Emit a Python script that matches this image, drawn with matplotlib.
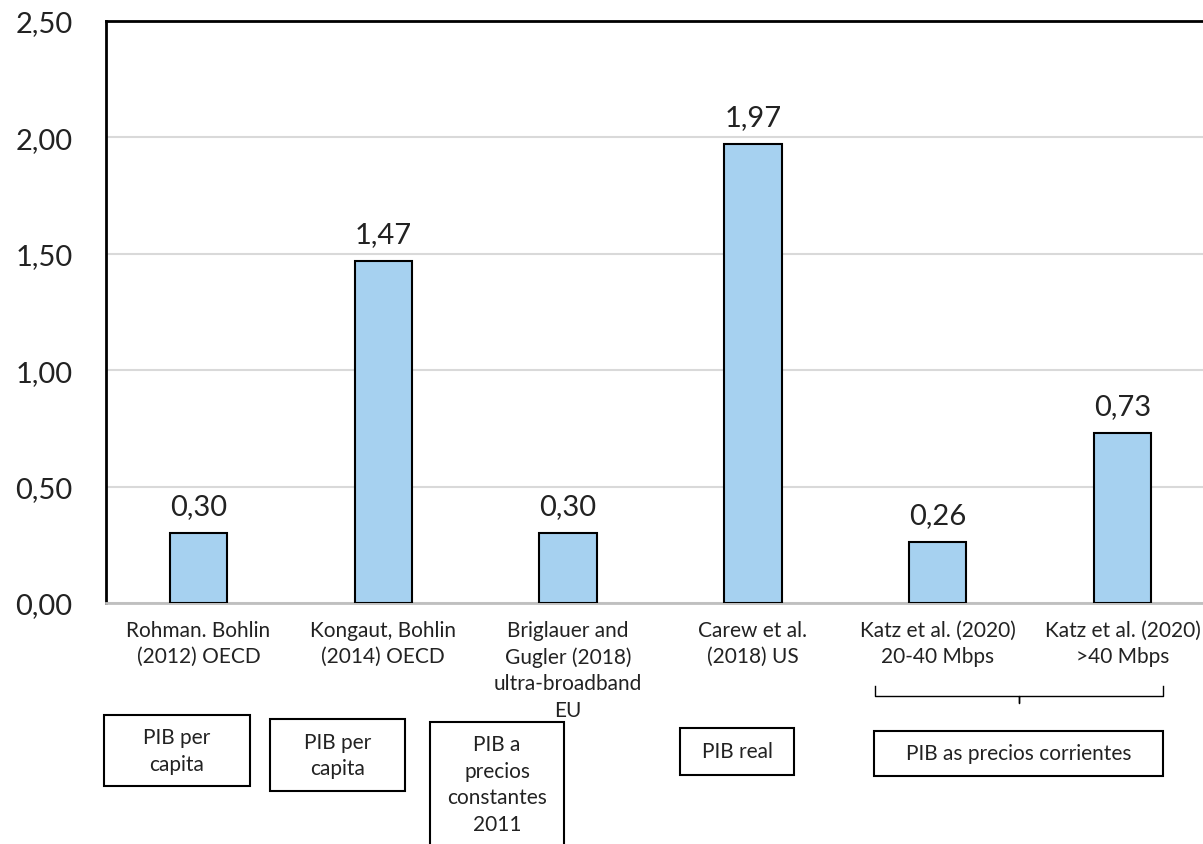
import matplotlib
matplotlib.use("Agg")
import matplotlib.pyplot as plt
from matplotlib.patches import Rectangle
from matplotlib.lines import Line2D

# datos
estudios = ["Rohman. Bohlin\n(2012) OECD",
            "Kongaut, Bohlin\n(2014) OECD",
            "Briglauer and\nGugler (2018)\nultra-broadband\nEU",
            "Carew et al.\n(2018) US",
            "Katz et al. (2020)\n20-40 Mbps",
            "Katz et al. (2020)\n>40 Mbps"]
valores = [0.30, 1.47, 0.30, 1.97, 0.26, 0.73]
y_ticks = [0.0, 0.5, 1.0, 1.5, 2.0, 2.5]
cajas = ["PIB per\ncapita", "PIB per\ncapita",
         "PIB a\nprecios\nconstantes\n2011", "PIB real",
         "PIB as precios corrientes"]

W, H = 1203, 845
plt.rcParams['font.family'] = ['Lato', 'DejaVu Sans']

fig = plt.figure(figsize=(W / 100, H / 100), dpi=100)
ax = fig.add_axes([106 / W, (H - 604) / H, 1 - 106 / W + 0.01, (604 - 22) / H])

x = range(len(valores))
ax.bar(x, valores, width=0.31, color='#A6D1F0', edgecolor='black', linewidth=1.5, zorder=3)
for i, v in enumerate(valores):
    ax.text(i, v + 0.06, f"{v:.2f}".replace('.', ','), ha='center', va='bottom',
            fontsize=21, color='#222222')

ax.set_xlim(-0.5, 5.5)
ax.set_ylim(0, 2.5)
ax.set_yticks(y_ticks)
ax.set_yticklabels([f"{t:.2f}".replace('.', ',') for t in y_ticks], fontsize=21, color='#222222')
ax.set_xticks(list(x))
ax.set_xticklabels(estudios, fontsize=15, color='#222222', linespacing=1.4, va='top')
ax.tick_params(axis='y', length=0, pad=24)
ax.tick_params(axis='x', length=0, pad=12)
ax.grid(axis='y', color='#d9d9d9', linewidth=1.5, zorder=0)
ax.set_axisbelow(True)
for s in ['left', 'top']:
    ax.spines[s].set_color('black')
    ax.spines[s].set_linewidth(2)
ax.spines['right'].set_visible(False)
ax.spines['bottom'].set_color('#bfbfbf')
ax.spines['bottom'].set_linewidth(2)


def px(x0, y0):
    return x0 / W, 1 - y0 / H


# cajas de texto bajo el eje (x0, y0, x1, y1 en píxeles)
pos_cajas = [(104, 716, 250, 787), (270, 720, 405, 792), (430, 723, 564, 860),
             (680, 729, 794, 776), (874, 732, 1163, 777)]
for texto, (x0, y0, x1, y1) in zip(cajas, pos_cajas):
    fx0, fy1 = px(x0, y1)
    fx1, fy0 = px(x1, y0)
    fig.add_artist(Rectangle((fx0, fy1), fx1 - fx0, fy0 - fy1, transform=fig.transFigure,
                             fill=False, edgecolor='black', linewidth=1.5))
    yc = (y0 + y1) / 2
    if y1 > H:
        yc = 785
    fig.text((x0 + x1) / 2 / W, 1 - yc / H, texto, ha='center', va='center',
             fontsize=15, color='#222222', linespacing=1.4)

# llave para los dos estudios de Katz
bx0, bx1, by0, by1, bym, byt = 875, 1163, 687, 697, 1019, 704
pts = [(bx0, by0), (bx0, by1), (bym, by1), (bym, byt), (bym, by1), (bx1, by1), (bx1, by0)]
fig.add_artist(Line2D([p[0] / W for p in pts], [1 - p[1] / H for p in pts],
                      transform=fig.transFigure, color='black', linewidth=1))

fig.savefig("out.png", dpi=100)
